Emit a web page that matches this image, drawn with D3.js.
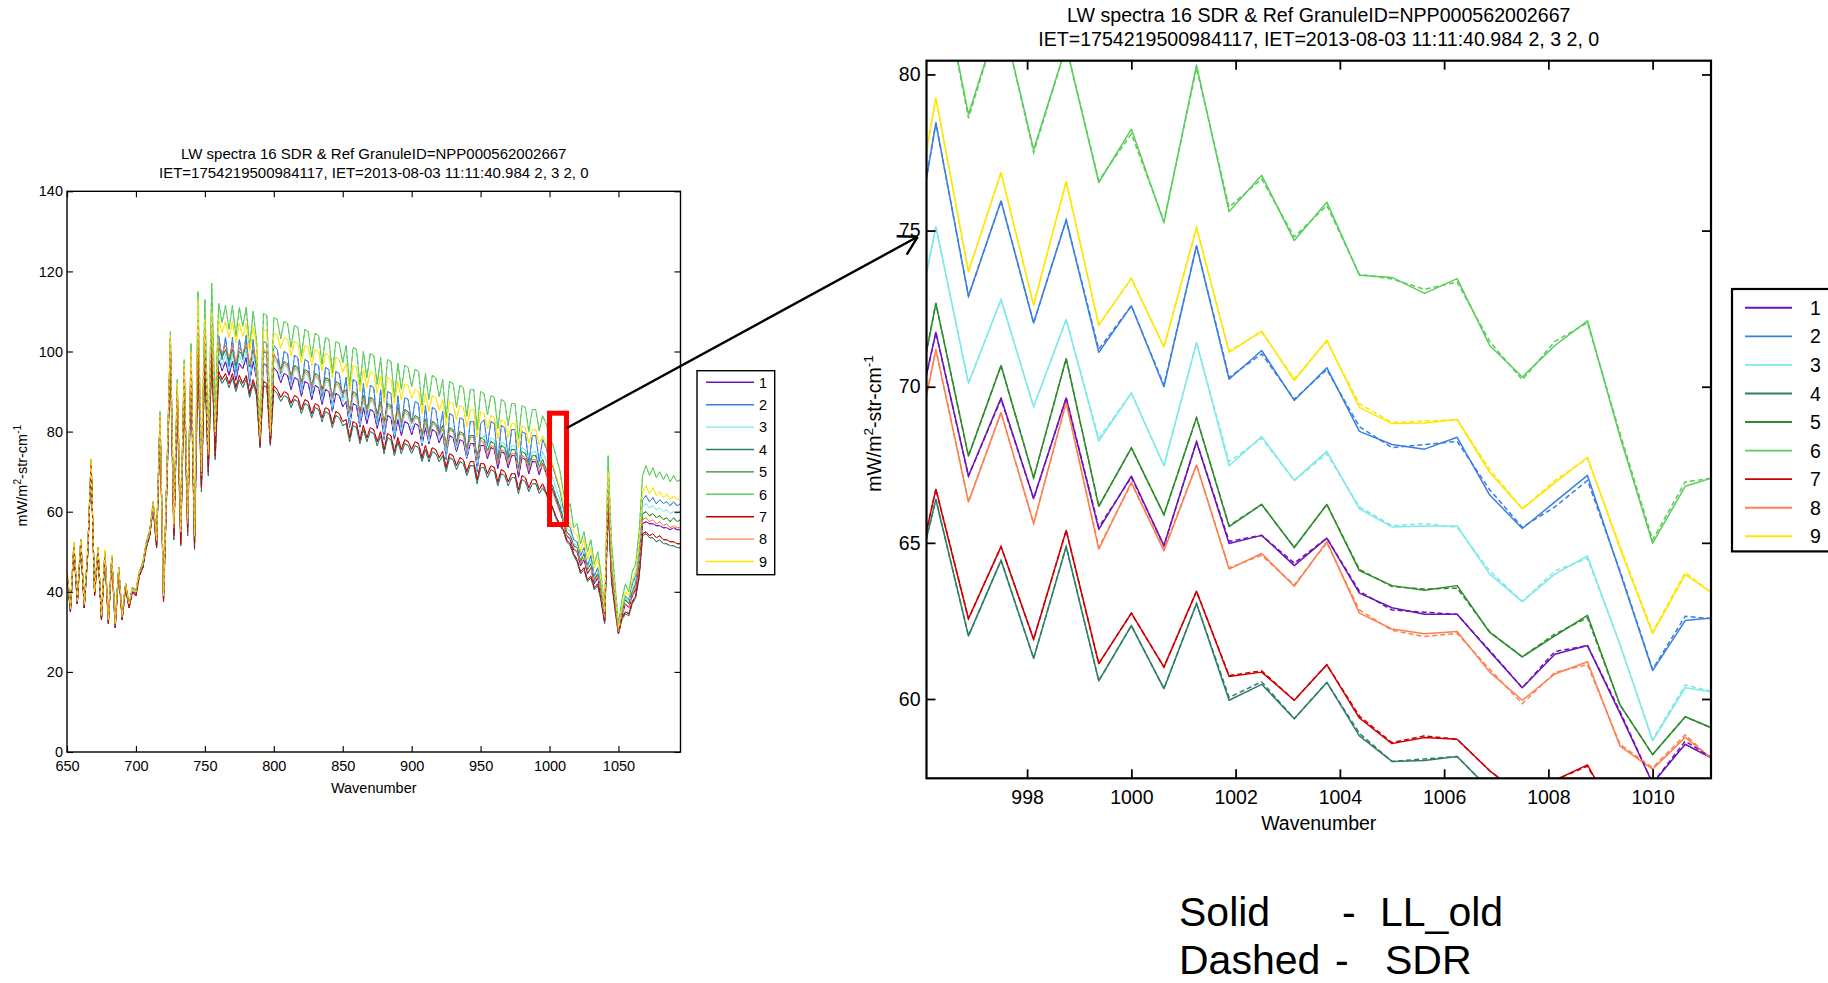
<!DOCTYPE html>
<html>
<head>
<meta charset="utf-8">
<script src="https://cdn.jsdelivr.net/npm/d3@7"></script>
<style>
  body { margin: 0; background: #fff; }
  svg { display: block; font-family: "Liberation Sans", Arial, sans-serif; }
</style>
</head>
<body>
<svg id="chart" width="1828" height="983"></svg>
<script>
// Series labels and colours (legend order)
const seriesNames = ['1', '2', '3', '4', '5', '6', '7', '8', '9'];
const seriesColors = ['#6B14B8', '#3A7FE0', '#7FE8E8', '#2E7D6B', '#2E8B2E', '#5ACD5A', '#CC0000', '#FF7F50', '#FFE600'];

// Full LW spectrum, one value every 2.5 cm-1 from 650 to 1095
const fullWave = d3.range(179).map(i => 650 + 2.5 * i);
const full1 = [44.5,35,51.5,37,52.5,36,49.5,72.5,39.5,50.5,33,49.5,32.5,48.5,31.5,45.5,33.5,41.5,36.5,40.5,39.5,44.5,46.5,51.5,54.5,61.5,52,83,38,69,101,55,89,53.5,94,56,97,52.5,104,67,102,72,103,77,
  98,95.2,97.5,94,97.5,92.8,97,95.7,98.5,92.4,97.5,93.3,77.5,97,96.5,78.5,96,95,92.2,94.5,94,90.5,93.5,93,88.8,92.5,92,88,91.5,91,86.8,90.5,90,85.1,89.5,89,86.2,87.5,81.4,87,86.5,81.1,86,82,85.5,85,80.8,84.5,78.4,84,83.5,78.1,83,79,82.5,82,79.2,82,81.5,76.6,81,77,80.5,80,77.2,79.5,73.9,79,78.5,75,78,77.5,73.3,77,77,70.9,76.5,76.5,73.2,76,75.5,70.8,75,74.5,71,74,74,68.6,73.5,73,69.5,72.5,72.5,69.2,72,69.6,67.1,
  65.24,62.92,60.36,57.3,54,53,50.5,50,46.5,48,44.5,46,42,43.5,39,33,64,45,37,30,34,37,36,39,40.5,46,57,57.5,57,57,56.5,56.5,56,56,55.5,56,55.5,55.5];
const full2 = [45,36,52,38,53,37,50,73,40,51,34,50,33,49,32,46,34,42,37,41,40,45,47,52,55,62,53,84,39,70,103,57,91,55,96,58,99,54,108,69,106,74,108,80,
  104,98,103.5,96,103.5,94,103,98,104,91.5,103,94,78,102.5,102,79,101.5,100.5,94.5,100,99.5,92,99,98.5,89.5,98,97.5,89.5,97,96.5,87.5,96,95.5,85,95,94.5,88.5,93.5,81,93,92.5,81.5,92,84,91.5,91,82,90.5,78,90,89.5,78.5,89,81,88.5,88,82,87.5,87,76.5,86.5,78.5,86,85.5,79.5,85,73,84.5,84,76.5,83.5,83,74,82.5,82.5,70,82,83,76.5,82.5,82,72.5,81.5,81,73.5,80.5,80.5,69.5,80,79.5,72,79,79,72.5,78,76,72.6,
  71.16,68.15,65.46,60.91,57,56,53,52.5,49,51,46.5,49,44,46,41,34,68,48,39,30.5,35.5,39,38,42,44,50,63,64,62.5,63.5,62,63,62,62.5,61.5,62.5,61.5,62];
const full3 = [44.5,35.5,51.5,37.5,52.5,36.5,49.5,72.5,39.5,50.5,33.5,49.5,32.5,48.5,31.5,45.5,33.5,41.5,36.5,40.5,39.5,44.5,46.5,51.5,54.5,61.5,52.5,83,38.5,69,102,56.5,90,54.5,95,57.5,98,53.5,106,69,104,74,105,79,
  100,96.4,99.5,95,99.5,93.6,99,96.9,100.5,92.8,99.5,94.1,78,99,98.5,79.5,98,97,93.4,96.5,96,91.5,95.5,95,89.6,94.5,94,89,93.5,93,87.6,92.5,92,85.7,91.5,91,87.4,89.5,81.8,89,88.5,81.7,88,83,87.5,87,81.6,86.5,78.8,86,85.5,78.7,85,80,84.5,84,80.4,83.5,83,76.7,82.5,77.5,82,81.5,77.9,81,73.8,80.5,80,75.5,79.5,79,73.6,78.5,78.5,70.8,78,79,74.9,78.5,78,72.1,77.5,77,72.5,76.5,76.5,69.7,76,75.5,71,75,75,70.9,75,72.8,69.8,
  68.4,65.51,63.12,58.66,56,55,52,51.5,48,50,46,48,43.5,45,40.5,34,67,47,38.5,30.5,35,38.5,37.5,41,43,48.5,61,62,61,61.5,60.5,61,60,60.5,59.5,60,59.5,60];
const full4 = [44,35,51,37,52,36,49,72,39,50,33,49,32,48,31,45,33,41,36,40,39,44,46,51,54,61,51,82,37.5,66,99,53,87,51.5,92,54,95,50.5,99,65,97,69,99,73,
  94,92,93.5,91,93.5,90,93,91,93,88.5,92,89,76,91.5,91,76.5,90.5,89.5,87.5,89,88.5,86,88,87.5,84.5,87,86.5,83.5,86,85.5,82.5,85,84.5,81,84,83.5,81.5,82,77.5,81.5,81,77,80.5,77.5,80,79.5,76.5,79,74.5,78.5,78,74,77.5,74.5,77,76.5,74.5,76.5,76,72.5,75.5,72.5,75,74.5,72.5,74,70,73.5,73,70.5,72.5,72,69,71.5,71.5,67,71,71,68.5,70.5,70,66.5,69.5,69,66.5,68.5,68.5,64.5,68,67.5,65,67,67,64.5,66,64.4,62.4,
  60.47,58,56.6,55.2,52.5,51.5,49,47.5,44.5,45.5,42.5,43.5,40.5,41.5,37.5,32,61,42.5,35.5,29.5,33,34.5,34,37,38.5,43.5,54,54.5,53.5,53.5,52.5,53,52,52,51.5,51.5,51,51];
const full5 = [45,36,52,38,53,37,50,73,40,51,34,50,33,49,32,46,34,42,37,41,40,45,47,52,55,62,53,84,39,70,103,57,91,55,96,58,99,54,106,69,105,74,104,80,
  101,98.6,100.5,97.5,100.5,96.4,100,99.1,101.5,96.2,100.5,96.9,78,100,99.5,79,99,98,95.6,97.5,97,94,96.5,96,92.4,95.5,95,91.5,94.5,94,90.4,93.5,93,88.8,92.5,92,89.6,90.5,85.2,90,89.5,84.8,89,85.5,88.5,88,84.4,87.5,82.2,87,86.5,81.8,86,82.5,85.5,85,82.6,84,83.5,79.3,83,79.5,82.5,82,79.6,81.5,76.7,81,80.5,77.5,80,79.5,75.9,79,79,73.7,78.5,78,75.1,77.5,77,72.9,76.5,76,73,75.5,75.5,70.8,75,74.5,71.5,74,74,71.1,73,70.7,68,
  66.23,63.63,61.35,58.22,55,54,51.5,51,47.5,49.5,45.5,47,43,44.5,40,33.5,66,46,38,30,35,38,37,40,42,47.5,59.5,60,59,59.5,58.5,59,58,58.5,57.5,58.5,57.5,58];
const full6 = [45,36.5,52,38,53,37.5,50,73,40,51,34.5,50,33,49,32.5,46,34,42,37,41,40.5,45,47.5,52.5,55.5,62.5,54,85,39.5,71,105,58,93,56,98,59,102,55,115,72,113,78,117,85,
  112,107.2,111.5,105.5,111.5,103.8,111,106.2,111,100.9,110,102.8,80,109.5,109,82,108.5,108,103.2,107.5,107,101,106.5,106,98.8,105.5,105,98.5,104.5,104,96.8,103.5,103,94.6,102.5,102,97.2,101.5,91.4,101,100.5,91.6,100,93.5,99.5,99,91.8,98.5,88.4,98,97.5,88.6,97,90.5,96.5,96,91.2,95.5,95,86.6,94.5,88,94,93.5,88.7,93,83.4,92.5,92,86,91.5,91,83.8,90.5,90.5,80.4,90,89.5,84.2,89,88.5,80.8,88,87.5,81.5,87,87,78.1,86.5,86,80,85.5,85.5,80.2,84,82,78.3,
  76.77,73.5,70.31,65,60,62,56,57,52,55,50,53,47,50,44,36,74,52,42,32,38,42,40,45,47,55,69,71.5,69,71,68.5,70,68,69.5,67.5,69,67.5,68];
const full7 = [44,35,51,37,52,36,49,72,39,50,33,49,32,48,31,45,33,41,36,40,39,44,46,51,54,61,51,82,37.5,67,100,54,88,52,93,55,96,51,100,66,98,70,100,74,
  95,93,94.5,92,94.5,91,94,92,94,89.5,93,90,76.5,92.5,92,77,91.5,90.5,88.5,90,89.5,87,89,88.5,85.5,88,87.5,84.5,87,86.5,83.5,86,85.5,82,85,84.5,82.5,83,78.5,82.5,82,78,81.5,78.5,81,80.5,77.5,80,75.5,79.5,79,75,78.5,75.5,78,77.5,75.5,77.5,77,73.5,76.5,73.5,76,75.5,73.5,75,71,74.5,74,71.5,73.5,73,70,72.5,72.5,68,72,72,69.5,71.5,71,67.5,70.5,70,67.5,69.5,69.5,65.5,69,68.5,66,68,68,65.5,67,64.9,62.8,
  60.86,58.57,56.9,55.6,53,52,49.5,48,45,46,43,44,41,42,38,32.5,62,43,36,29.5,33.5,35,34.5,37.5,39,44,54.5,55,54,54.5,53.5,54,53,53,52.5,52.5,52,52];
const full8 = [45,36,52,38,53,37,50,73,40,51,34,50,33,49,32,46,34,42,37,41,40,45,47,52,55,62,53,84,39,70,103,56,91,55,96,57,99,54,107,69,105,74,106,79,
  102,99.6,101.5,98.5,101.5,97.4,101,99.6,102,96.7,101,97.4,78,100.5,100,79,99.5,97.5,95.1,97,96.5,93.5,96,95.5,91.9,95,94.5,91,94,93.5,89.9,93,92.5,88.3,92,91.5,89.1,90,84.7,89.5,89,84.3,88.5,85,88,87.5,83.9,87,81.7,86.5,86,81.3,85.5,82,85,84.5,82.1,83.5,83,78.8,82.5,79,82,81.5,79.1,81,76.2,80.5,80,77,79.5,79,75.4,78.5,78.5,73.2,78,77,74.1,76.5,76,71.9,75.5,75,72,74.5,74.5,69.8,74,73.5,70.5,73,73,70.1,72,69.2,66.9,
  64.66,62.24,59.96,57.75,54,53.5,51,50,47,48.5,45,46,42.5,44,39.5,33.5,65,45,37.5,30,34.5,37,36,39.5,41,46.5,58,58.5,57.5,58,57,57.5,56.5,57,56,56.5,56,56];
const full9 = [45.5,36,52.5,38,53,37,50.5,73,40,51,34,50.5,33,49,32,46,34,42,37,41,40,45,47,52,55,62,53,84,39,70,104,57,92,55,97,58,100,54,113,70,108,75,110,80,
  108,104.8,107.5,103.5,107.5,102.2,107,103.8,107,100.1,106,101.2,79,105.5,105,80,104.5,104,100.8,103.5,103,99,102.5,102,97.2,101.5,101,96.5,100.5,100,95.2,99.5,99,93.4,98.5,98,94.8,97,90.1,96.5,96,89.9,95.5,91,95,94.5,89.7,94,87.1,93.5,93,86.9,92.5,88,92,91.5,88.3,90.5,90,84.4,89.5,85,89,88.5,85.3,88,81.6,87.5,87,83,86.5,86,81.2,85.5,85.5,78.6,85,84.5,80.8,84,83.5,78.2,83,82.5,78.5,82,82,75.9,81.5,81,77,80.5,80.5,76.8,79,76.9,73.5,
  71.78,68.82,66.09,62.09,58,57,55,54,50,53,48,51,46,48,43,35,70,49,40,31,36,40,39,43,45,52,65,66.5,64.5,66,64,65,63.5,64.5,63,64,63,63];
const fullSeries = [full1, full2, full3, full4, full5, full6, full7, full8, full9];

// Zoomed window 996-1011 cm-1, channel spacing 0.625
const zoomWave = [995.625, 996.25, 996.875, 997.5, 998.125, 998.75, 999.375, 1000, 1000.625, 1001.25, 1001.875, 1002.5, 1003.125,
  1003.75, 1004.375, 1005, 1005.625, 1006.25, 1006.875, 1007.5, 1008.125, 1008.75, 1009.375, 1010, 1010.625, 1011.25];
// LL_old (solid)
const ll1 = [67.05,71.74,67.14,69.64,66.42,69.64,65.43,67.14,64.91,68.24,64.98,65.24,64.27,65.15,63.39,62.92,62.71,62.71,61.52,60.36,61.43,61.71,59.54,57.3,58.55,58.0];
const ll2 = [72.3,78.45,72.9,75.95,72.04,75.34,71.1,72.59,70.0,74.51,70.24,71.16,69.56,70.61,68.57,68.15,68.0,68.38,66.53,65.46,66.31,67.16,64.05,60.91,62.51,62.62];
const ll3 = [69.9,75.13,70.11,72.79,69.36,72.15,68.26,69.8,67.47,71.41,67.47,68.4,67.0,67.93,66.09,65.51,65.54,65.54,64.0,63.12,64.0,64.58,61.74,58.66,60.36,60.2];
const ll4 = [62.1,66.39,62.02,64.44,61.3,64.88,60.58,62.35,60.33,63.06,59.96,60.47,59.37,60.53,58.82,58.0,58.03,58.16,57.1,56.6,56.8,57.0,55.5,55.2,55.6,55.3];
const ll5 = [67.3,72.67,67.78,70.68,67.08,70.9,66.17,68.04,65.9,69.01,65.52,66.23,64.85,66.23,64.11,63.63,63.48,63.63,62.13,61.35,62.02,62.68,59.81,58.22,59.43,58.99];
const ll6 = [79.0,84.0,78.72,82.0,77.59,80.9,76.54,78.25,75.26,80.3,75.61,76.77,74.68,75.91,73.57,73.5,72.99,73.46,71.32,70.31,71.32,72.11,68.4,64.99,66.81,67.14];
const ll7 = [62.05,66.72,62.57,64.88,61.91,65.4,61.13,62.75,61.02,63.45,60.72,60.86,59.96,61.1,59.39,58.57,58.77,58.71,57.7,56.9,57.4,57.89,56.0,55.6,56.0,55.8];
const ll8 = [66.1,71.19,66.31,69.17,65.62,69.5,64.8,66.94,64.74,67.49,64.16,64.66,63.61,65.04,62.75,62.24,62.09,62.16,60.86,59.96,60.8,61.19,58.49,57.75,58.77,57.94];
const ll9 = [73.3,79.25,73.68,76.86,72.61,76.57,71.97,73.47,71.27,75.1,71.1,71.78,70.2,71.49,69.34,68.82,68.84,68.95,67.25,66.09,66.92,67.74,64.82,62.09,63.98,63.28];
// SDR (dashed)
const sdr1 = [67.05,71.74,67.14,69.6,66.42,69.64,65.5,67.1,64.91,68.24,65.05,65.24,64.35,65.15,63.45,62.85,62.78,62.71,61.55,60.36,61.52,61.71,59.6,57.3,58.65,58.0];
const sdr2 = [72.3,78.45,72.9,75.95,72.04,75.34,71.2,72.59,70.05,74.51,70.3,71.05,69.6,70.55,68.72,68.05,68.15,68.25,66.7,65.5,66.15,67.0,64.1,60.95,62.65,62.55];
const sdr3 = [69.9,75.13,70.11,72.79,69.36,72.15,68.35,69.8,67.47,71.41,67.6,68.35,67.0,67.85,66.15,65.55,65.62,65.5,64.1,63.12,64.1,64.5,61.74,58.7,60.45,60.2];
const sdr4 = [62.1,66.39,62.02,64.44,61.3,64.88,60.58,62.35,60.33,63.06,60.05,60.55,59.37,60.53,58.9,58.0,58.08,58.16,57.1,56.6,56.8,57.0,55.5,55.2,55.6,55.3];
const sdr5 = [67.3,72.67,67.78,70.68,67.08,70.9,66.17,68.04,65.9,69.01,65.55,66.23,64.85,66.23,64.15,63.6,63.52,63.55,62.15,61.35,62.08,62.6,59.81,58.22,59.43,58.99];
const sdr6 = [79.0,84.0,78.6,82.0,77.5,80.9,76.6,78.1,75.3,80.2,75.75,76.65,74.8,75.8,73.6,73.45,73.12,73.35,71.45,70.22,71.45,72.05,68.5,65.1,66.95,67.1];
const sdr7 = [62.05,66.72,62.57,64.88,61.91,65.4,61.13,62.75,61.02,63.45,60.75,60.9,59.96,61.1,59.45,58.6,58.82,58.71,57.7,56.9,57.4,57.85,56.0,55.6,56.0,55.8];
const sdr8 = [66.1,71.19,66.31,69.17,65.62,69.5,64.85,66.9,64.8,67.49,64.2,64.6,63.65,65.0,62.85,62.2,62.0,62.1,60.95,59.85,60.85,61.1,58.55,57.8,58.85,57.9];
const sdr9 = [73.3,79.25,73.68,76.86,72.61,76.57,71.97,73.47,71.27,75.1,71.15,71.75,70.25,71.45,69.45,68.85,68.9,68.95,67.35,66.09,67.0,67.7,64.9,62.15,64.05,63.25];
const zoomLL = [ll1, ll2, ll3, ll4, ll5, ll6, ll7, ll8, ll9];
const zoomSDR = [sdr1, sdr2, sdr3, sdr4, sdr5, sdr6, sdr7, sdr8, sdr9];

// Ticks
const leftXTicks = [650, 700, 750, 800, 850, 900, 950, 1000, 1050];
const leftYTicks = [0, 20, 40, 60, 80, 100, 120, 140];
const rightXTicks = [998, 1000, 1002, 1004, 1006, 1008, 1010];
const rightYTicks = [60, 65, 70, 75, 80];

const titleLines = ['LW spectra 16 SDR & Ref GranuleID=NPP000562002667', 'IET=1754219500984117, IET=2013-08-03 11:11:40.984 2, 3 2, 0'];

const svg = d3.select('#chart');
const defs = svg.append('defs');

function drawPanel(p) {
    const x = d3.scaleLinear().domain(p.xDomain).range([p.left, p.right]);
    const y = d3.scaleLinear().domain(p.yDomain).range([p.bottom, p.top]);
    const g = svg.append('g');

    defs.append('clipPath').attr('id', 'clip-' + p.id)
        .append('rect')
        .attr('x', p.left).attr('y', p.top)
        .attr('width', p.right - p.left).attr('height', p.bottom - p.top);

    const line = d3.line().x((d, i) => x(p.wave[i])).y(d => y(d));
    const plot = g.append('g').attr('clip-path', `url(#clip-${p.id})`);

    // solid first, dashed on top
    p.solid.forEach((vals, k) => {
        plot.append('path').attr('d', line(vals))
            .attr('fill', 'none').attr('stroke', seriesColors[k])
            .attr('stroke-width', p.lineWidth).attr('stroke-linejoin', 'round');
    });
    p.dashed.forEach((vals, k) => {
        plot.append('path').attr('d', line(vals))
            .attr('fill', 'none').attr('stroke', seriesColors[k])
            .attr('stroke-width', p.lineWidth).attr('stroke-dasharray', p.dash);
    });

    // MATLAB style ticks: inward on all four sides
    const fmt = d3.format('d');
    const axes = [
        { a: d3.axisBottom(x).tickValues(p.xTicks).tickFormat(fmt).tickPadding(p.xPad), t: `translate(0,${p.bottom})` },
        { a: d3.axisTop(x).tickValues(p.xTicks).tickFormat(() => ''), t: `translate(0,${p.top})` },
        { a: d3.axisLeft(y).tickValues(p.yTicks).tickFormat(fmt).tickPadding(p.yPad), t: `translate(${p.left},0)` },
        { a: d3.axisRight(y).tickValues(p.yTicks).tickFormat(() => ''), t: `translate(${p.right},0)` }
    ];
    axes.forEach(ax => {
        const ag = g.append('g').attr('transform', ax.t)
            .call(ax.a.tickSizeInner(-p.tick).tickSizeOuter(0));
        ag.select('.domain').remove();
        ag.attr('font-size', p.fontSize).attr('font-family', null);
        ag.selectAll('line').attr('stroke', '#000').attr('stroke-width', p.boxWidth * 0.8);
        ag.selectAll('text').attr('fill', '#000');
    });

    g.append('rect')
        .attr('x', p.left).attr('y', p.top)
        .attr('width', p.right - p.left).attr('height', p.bottom - p.top)
        .attr('fill', 'none').attr('stroke', '#000').attr('stroke-width', p.boxWidth);

    // titles and labels
    const cx = (p.left + p.right) / 2;
    titleLines.forEach((s, i) => {
        g.append('text').attr('x', cx).attr('y', p.titleY[i])
            .attr('text-anchor', 'middle').attr('font-size', p.titleSize).text(s);
    });
    g.append('text').attr('x', cx).attr('y', p.xLabelY)
        .attr('text-anchor', 'middle').attr('font-size', p.fontSize).text('Wavenumber');

    const fs = p.fontSize;
    const yl = g.append('text')
        .attr('transform', `translate(${p.yLabelX},${(p.top + p.bottom) / 2 + 4}) rotate(-90)`)
        .attr('text-anchor', 'middle').attr('font-size', fs);
    yl.append('tspan').text('mW/m');
    yl.append('tspan').attr('font-size', fs * 0.7).attr('dy', -fs * 0.4).text('2');
    yl.append('tspan').attr('dy', fs * 0.4).text('-str-cm');
    yl.append('tspan').attr('font-size', fs * 0.7).attr('dy', -fs * 0.4).text('-1');

    // legend
    const L = p.legend;
    g.append('rect').attr('x', L.x).attr('y', L.y).attr('width', L.w).attr('height', L.h)
        .attr('fill', '#fff').attr('stroke', '#000').attr('stroke-width', p.boxWidth);
    seriesNames.forEach((name, k) => {
        const ry = L.row0 + k * L.rowStep;
        g.append('line').attr('x1', L.lineX1).attr('x2', L.lineX2).attr('y1', ry).attr('y2', ry)
            .attr('stroke', seriesColors[k]).attr('stroke-width', p.lineWidth + 0.4);
        g.append('text').attr('x', L.textX).attr('y', ry).attr('dy', '0.36em')
            .attr('font-size', L.fontSize).text(name);
    });

    return { x, y };
}

const left = drawPanel({
    id: 'full', wave: fullWave, solid: fullSeries, dashed: fullSeries, dash: '4,3',
    xDomain: [650, 1095], yDomain: [0, 140],
    left: 67, right: 680.5, top: 191.3, bottom: 752,
    xTicks: leftXTicks, yTicks: leftYTicks,
    tick: 6, xPad: 9, yPad: 4, fontSize: 14.5, titleSize: 15, titleY: [159, 178],
    xLabelY: 793, yLabelX: 26.5, lineWidth: 1, boxWidth: 1.4,
    legend: { x: 697, y: 370.7, w: 77.7, h: 204, row0: 382.3, rowStep: 22.4,
              lineX1: 706, lineX2: 754, textX: 759, fontSize: 14.5 }
});

const right = drawPanel({
    id: 'zoom', wave: zoomWave, solid: zoomLL, dashed: zoomSDR, dash: '5,3',
    xDomain: [996.07, 1011.12], yDomain: [57.46, 80.44],
    left: 926.5, right: 1711, top: 60.7, bottom: 778.3,
    xTicks: rightXTicks, yTicks: rightYTicks,
    tick: 9, xPad: 12, yPad: 6, fontSize: 19.5, titleSize: 19.6, titleY: [22, 46],
    xLabelY: 830, yLabelX: 881, lineWidth: 1.5, boxWidth: 2.2,
    legend: { x: 1732, y: 289, w: 130, h: 262.4, row0: 307.8, rowStep: 28.56,
              lineX1: 1745, lineX2: 1792, textX: 1810, fontSize: 19.5 }
});

// red box marking the zoomed window on the full spectrum
const bx0 = left.x(1000), bx1 = left.x(1012.3), by0 = left.y(84.6), by1 = left.y(56.8);
svg.append('rect').attr('x', bx0).attr('y', by0).attr('width', bx1 - bx0).attr('height', by1 - by0)
    .attr('fill', 'none').attr('stroke', '#FF0000').attr('stroke-width', 5);

// arrow from the box to the zoomed panel
const ax0 = left.x(1012.6), ay0 = left.y(80.9);
const ax1 = right.x(995.9), ay1 = right.y(74.8);
svg.append('line').attr('x1', ax0).attr('y1', ay0).attr('x2', ax1).attr('y2', ay1)
    .attr('stroke', '#000').attr('stroke-width', 2.4);
const ang = Math.atan2(ay0 - ay1, ax0 - ax1);
[-Math.PI / 6, Math.PI / 6].forEach(d => {
    svg.append('line').attr('x1', ax1).attr('y1', ay1)
        .attr('x2', ax1 + 21 * Math.cos(ang + d)).attr('y2', ay1 + 21 * Math.sin(ang + d))
        .attr('stroke', '#000').attr('stroke-width', 2.4);
});

// line style note (kept clear of the bottom edge)
const note = svg.append('g').attr('font-size', 41);
note.append('text').attr('x', 1179).attr('y', 925.5).text('Solid');
note.append('text').attr('x', 1342).attr('y', 925.5).text('-');
note.append('text').attr('x', 1380).attr('y', 925.5).text('LL_old');
note.append('text').attr('x', 1179).attr('y', 973.5).text('Dashed');
note.append('text').attr('x', 1335).attr('y', 973.5).text('-');
note.append('text').attr('x', 1385).attr('y', 973.5).text('SDR');
</script>
</body>
</html>
